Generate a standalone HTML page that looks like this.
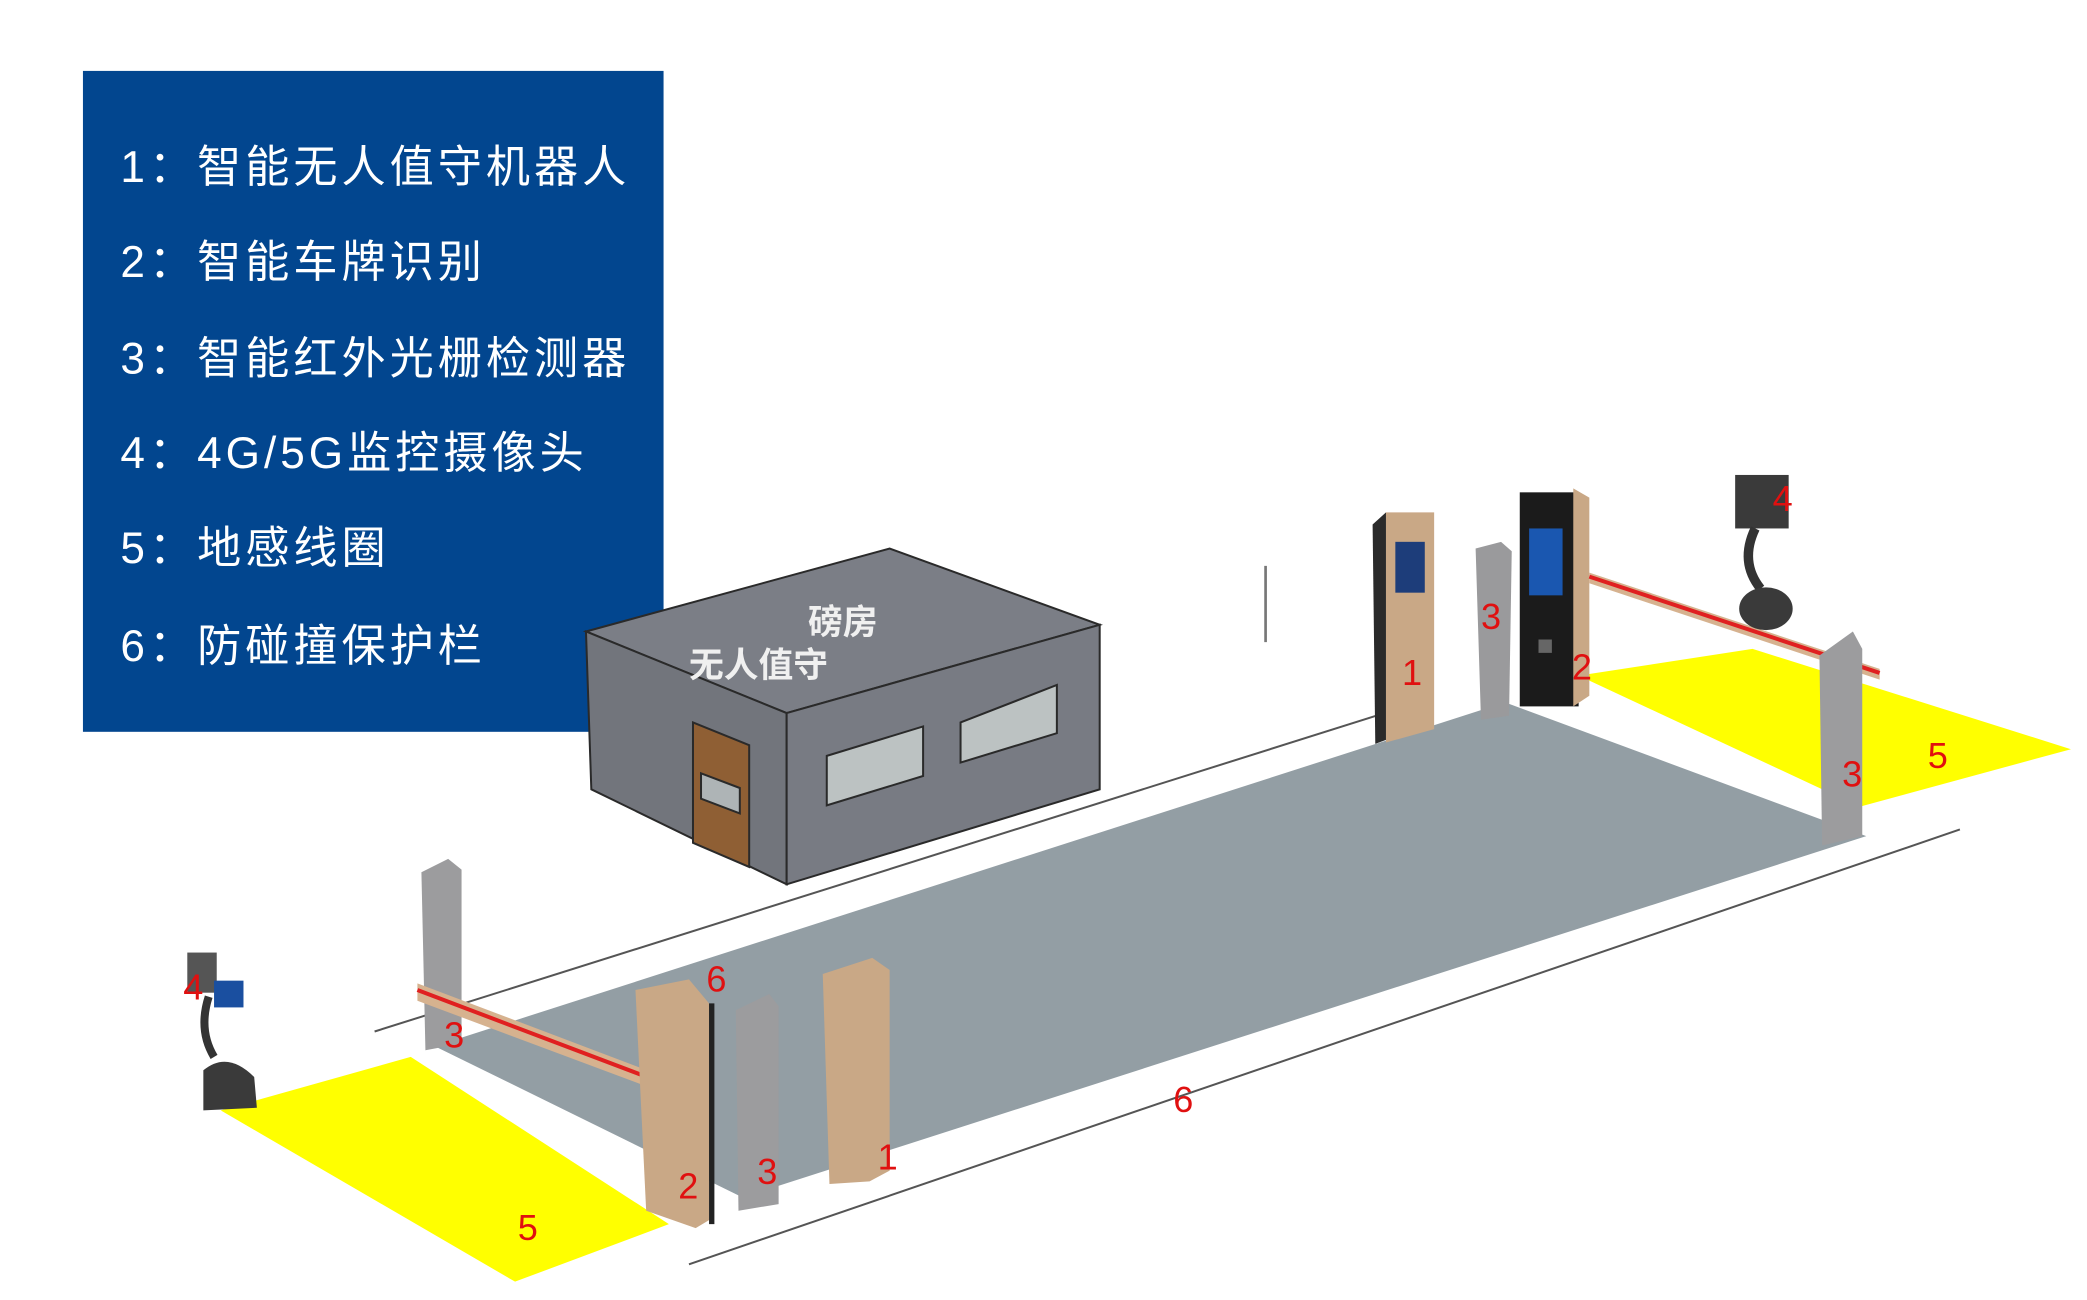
<!DOCTYPE html>
<html><head><meta charset="utf-8"><style>
html,body{margin:0;padding:0;background:#fff}
svg{display:block}
text{font-family:"Liberation Sans","Noto Sans CJK SC",sans-serif}
</style></head><body>
<svg width="2087" height="1300" viewBox="0 0 1560 971.7" preserveAspectRatio="none" xmlns="http://www.w3.org/2000/svg">
<rect width="1560" height="972" fill="#fff"/>
<!-- legend box -->
<rect x="62" y="53" width="434" height="494" fill="#02468f"/>
<g fill="#fff" font-size="33" letter-spacing="3">
<text x="90" y="136">1：智能无人值守机器人</text>
<text x="90" y="207">2：智能车牌识别</text>
<text x="90" y="279">3：智能红外光栅检测器</text>
<text x="90" y="350">4：4G/5G监控摄像头</text>
<text x="90" y="421">5：地感线圈</text>
<text x="90" y="494">6：防碰撞保护栏</text>
</g>
<!-- road -->
<polygon points="325,782 1125,525 1395,625 555,895" fill="#939ea4"/>
<line x1="280" y1="771" x2="1035" y2="533" stroke="#555" stroke-width="1.5"/>
<line x1="515" y1="945" x2="1465" y2="620" stroke="#555" stroke-width="1.5"/>
<!-- yellow loops -->
<polygon points="165,830 307,790 500,915 385,958" fill="#ffff00"/>
<polygon points="1180,505 1310,485 1548,560 1390,603" fill="#ffff00"/>
<!-- building -->
<g stroke="#2a2a2a" stroke-width="1.5">
<polygon points="438,472 665,410 822,467 588,533" fill="#7b7e86"/>
<polygon points="438,472 588,533 588,661 442,590" fill="#72757c"/>
<polygon points="588,533 822,467 822,590 588,661" fill="#787b83"/>
<polygon points="518,540 560,557 560,648 518,630" fill="#8f5f34"/>
<polygon points="524,578 553,589 553,608 524,597" fill="#aeb4b6"/>
<polygon points="618,565 690,543 690,580 618,602" fill="#bcc2c2"/>
<polygon points="718,540 790,512 790,548 718,570" fill="#bcc2c2"/>
</g>
<text x="604" y="474" fill="#f0f0f0" font-size="26" font-weight="bold">磅房</text>
<text x="515" y="506" fill="#f0f0f0" font-size="26" font-weight="bold">无人值守</text>
<!-- right side devices -->
<line x1="946" y1="423" x2="946" y2="480" stroke="#777" stroke-width="2"/>
<polygon points="1026,392 1036,383 1036,553 1028,556" fill="#2a2a2a"/>
<polygon points="1036,383 1072,383 1072,545 1036,555" fill="#c9a886"/>
<rect x="1043" y="405" width="22" height="38" fill="#1d3d7a"/>
<polygon points="1103,410 1122,405 1130,412 1128,535 1107,538" fill="#9a9a9c"/>
<rect x="1136" y="368" width="44" height="160" fill="#1b1b1b"/>
<polygon points="1176,365 1188,372 1188,520 1176,528" fill="#c9a886"/>
<rect x="1143" y="395" width="25" height="50" fill="#1a57b0"/>
<rect x="1150" y="478" width="10" height="10" fill="#666"/>
<polygon points="1188,428 1405,500 1405,508 1188,436" fill="#d6b28f"/>
<line x1="1188" y1="431" x2="1405" y2="503" stroke="#e02020" stroke-width="3"/>
<rect x="1297" y="355" width="40" height="40" fill="#3a3a3a"/>
<path d="M1312,395 Q1300,420 1316,440" stroke="#333" stroke-width="7" fill="none"/>
<ellipse cx="1320" cy="455" rx="20" ry="16" fill="#3a3a3a"/>
<polygon points="1360,490 1385,472 1392,485 1392,625 1362,632" fill="#9c9c9e"/>
<!-- left side devices -->
<polygon points="315,652 335,642 345,650 345,780 318,785" fill="#9c9c9e"/>
<rect x="140" y="712" width="22" height="30" fill="#555"/>
<rect x="160" y="733" width="22" height="20" fill="#1a4fa0"/>
<path d="M156,745 Q148,770 160,790" stroke="#333" stroke-width="6" fill="none"/>
<path d="M152,830 L152,800 Q170,785 190,805 L192,828 Z" fill="#3a3a3a"/>
<polygon points="312,735 510,810 510,822 312,748" fill="#d6b28f"/>
<line x1="312" y1="740" x2="510" y2="815" stroke="#e02020" stroke-width="3"/>
<polygon points="475,740 515,732 530,750 530,912 520,918 483,905" fill="#c9a886"/>
<line x1="532" y1="750" x2="532" y2="915" stroke="#222" stroke-width="4"/>
<polygon points="550,755 575,743 582,752 582,900 552,905" fill="#9c9c9e"/>
<polygon points="615,728 652,716 665,725 665,875 650,883 620,885" fill="#c9a886"/>
<!-- red labels -->
<g fill="#e01010" font-size="27">
<text x="1048" y="512">1</text>
<text x="1107" y="470">3</text>
<text x="1175" y="508">2</text>
<text x="1325" y="382">4</text>
<text x="1441" y="574">5</text>
<text x="1377" y="588">3</text>
<text x="137" y="747">4</text>
<text x="332" y="783">3</text>
<text x="528" y="741">6</text>
<text x="507" y="896">2</text>
<text x="566" y="885">3</text>
<text x="656" y="874">1</text>
<text x="877" y="831">6</text>
<text x="387" y="927">5</text>
</g>
</svg>
</body></html>
